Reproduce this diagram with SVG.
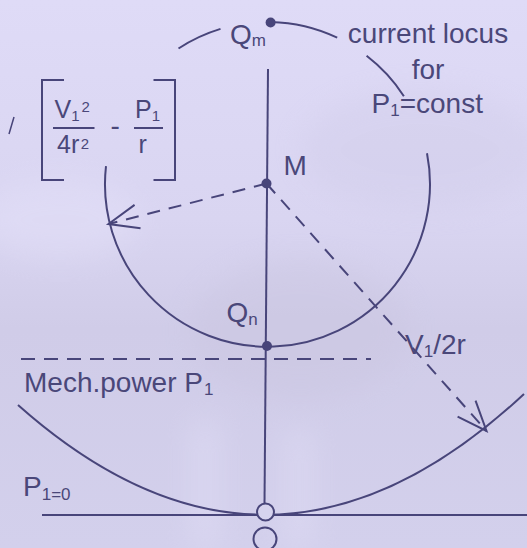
<svg xmlns="http://www.w3.org/2000/svg" width="527" height="548" viewBox="0 0 527 548">
<defs>
  <linearGradient id="bg" x1="0" y1="0" x2="0" y2="1">
    <stop offset="0" stop-color="#dfdbf7"/>
    <stop offset="0.4" stop-color="#d9d5f1"/>
    <stop offset="0.6" stop-color="#d0cce8"/>
    <stop offset="1" stop-color="#d3d0ec"/>
  </linearGradient>
  <filter id="blur" x="-50%" y="-50%" width="200%" height="200%">
    <feGaussianBlur stdDeviation="14"/>
  </filter>
  <marker id="arrow" markerUnits="userSpaceOnUse" markerWidth="40" markerHeight="30" viewBox="-36 -15 40 30" refX="0" refY="0" orient="auto">
    <path d="M -30,-12 L 0,0 L -30,12" fill="none" stroke="#48457a" stroke-width="2"/>
  </marker>
  <style>
    .ln { fill: none; stroke: #48457a; stroke-width: 2; }
    .dash { fill: none; stroke: #48457a; stroke-width: 2; stroke-dasharray: 13 9; }
    .dot { fill: #48457a; }
    .hollow { fill: #d6d3ee; stroke: #48457a; stroke-width: 2; }
    text { font-family: "Liberation Sans", Arial, sans-serif; fill: #4a4779; }
    .big { font-size: 28px; }
    .f25 { font-size: 25px; }
    .sub { font-size: 17px; }
    .s15 { font-size: 15px; }
  </style>
</defs>

<g id="background">
  <rect x="0" y="0" width="527" height="548" fill="url(#bg)"/>
  <g filter="url(#blur)" opacity="0.4">
    <ellipse cx="300" cy="330" rx="110" ry="70" fill="#c9c5df"/>
    <ellipse cx="420" cy="150" rx="120" ry="60" fill="#d0cce9"/>
    <rect x="190" y="420" width="30" height="128" fill="#e4e1f8"/>
    <rect x="285" y="430" width="28" height="118" fill="#e4e1f8"/>
    <ellipse cx="60" cy="220" rx="80" ry="40" fill="#e6e3fa"/>
  </g>
</g>

<g id="connectors">
  <!-- current locus circle (broken arcs) -->
  <path class="ln" d="M 178.5,48.5 A 162.5,162.5 0 0 1 220.5,28.9"/>
  <path class="ln" d="M 270.6,22.0 A 162.5,162.5 0 0 1 337.2,37.7"/>
  <path class="ln" d="M 366.6,55.8 A 162.5,162.5 0 0 1 403.9,96.2"/>
  <path class="ln" d="M 427.0,153.2 A 162.5,162.5 0 1 1 106.0,166.1"/>
  <!-- vertical axis -->
  <line class="ln" x1="268" y1="69" x2="264.5" y2="504"/>
  <!-- P1 = 0 baseline -->
  <line class="ln" x1="42" y1="515" x2="527" y2="515"/>
  <!-- mechanical power parabola -->
  <path class="ln" d="M 18,405 Q 271,630 524,394"/>
  <!-- horizontal dashed line -->
  <line class="dash" x1="21" y1="359" x2="371" y2="359" style="stroke-dasharray:14 9"/>
  <!-- radius arrows -->
  <line class="dash" x1="266.5" y1="183.5" x2="108.5" y2="224" marker-end="url(#arrow)"/>
  <line class="dash" x1="266.5" y1="183.5" x2="486.5" y2="431" marker-end="url(#arrow)"/>
  <!-- small slash -->
  <line class="ln" x1="9" y1="134" x2="14" y2="117" style="stroke-width:1.5"/>
  <!-- bracket -->
  <path class="ln" d="M 64,80 L 42,80 L 42,180 L 64,180"/>
  <path class="ln" d="M 153.5,80 L 175,80 L 175,180 L 153.5,180"/>
  <line class="ln" x1="53" y1="128" x2="94.5" y2="128"/>
  <line class="ln" x1="134" y1="128" x2="163" y2="128"/>
</g>

<g id="node-Qm">
  <circle class="dot" cx="270.6" cy="22.5" r="5"/>
  <text class="big" x="230" y="44">Q<tspan class="sub" dy="2">m</tspan></text>
</g>

<g id="node-M">
  <circle class="dot" cx="266.5" cy="183.5" r="5"/>
  <text class="big" x="283.5" y="175">M</text>
</g>

<g id="node-Qn">
  <circle class="dot" cx="267" cy="346" r="5"/>
  <text class="big" x="226.5" y="322">Q<tspan class="sub" dy="3">n</tspan></text>
</g>

<g id="node-O">
  <circle class="hollow" cx="265.5" cy="512" r="8.5"/>
  <circle class="ln" cx="265" cy="539" r="11.5"/>
</g>

<g id="label-locus">
  <text class="big" x="428" y="43" text-anchor="middle">current locus</text>
  <text class="big" x="428" y="79" text-anchor="middle">for</text>
  <text class="big" x="371.5" y="113">P<tspan class="sub" dy="3">1</tspan><tspan dy="-3">=const</tspan></text>
</g>

<g id="label-formula">
  <text class="f25" x="54.5" y="118">V<tspan class="s15" dy="3">1</tspan><tspan class="s15" dx="2" dy="-9">2</tspan></text>
  <text class="f25" x="57" y="153">4r<tspan class="s15" dx="1.5" dy="-4">2</tspan></text>
  <text x="110.5" y="134.5" style="font-size:28px">-</text>
  <text class="f25" x="135" y="118">P<tspan class="s15" dy="3">1</tspan></text>
  <text class="f25" x="138.5" y="153">r</text>
</g>

<g id="label-V1-2r">
  <text class="big" x="405" y="354">V<tspan class="sub" dy="3">1</tspan><tspan dy="-3">/2r</tspan></text>
</g>

<g id="label-mech">
  <text class="big" x="24" y="392">Mech.power P<tspan class="sub" dx="1" dy="3">1</tspan></text>
</g>

<g id="label-P10">
  <text class="big" x="23" y="496">P<tspan class="sub" dy="4">1=0</tspan></text>
</g>
</svg>
